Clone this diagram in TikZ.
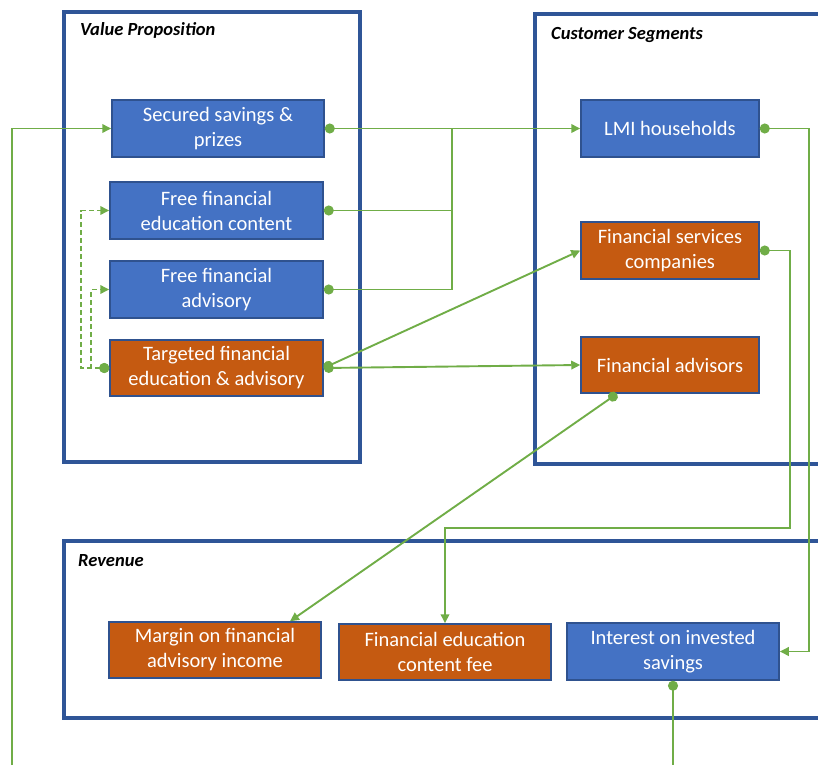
\documentclass[tikz,border=0pt]{standalone}
\usepackage{fontspec}
\setmainfont{Carlito}
\usetikzlibrary{arrows.meta}
\definecolor{fblue}{HTML}{4472C4}
\definecolor{forange}{HTML}{C55A11}
\definecolor{edge}{HTML}{2F528F}
\definecolor{frame}{HTML}{2F5597}
\definecolor{cgreen}{HTML}{70AD47}
\tikzset{
  boxbase/.style={draw=edge, line width=1.5pt, text=white, align=center,
    font=\fontsize{20.5}{25}\selectfont, inner sep=0pt},
  bluebox/.style={boxbase, fill=fblue},
  orangebox/.style={boxbase, fill=forange},
  framebox/.style={draw=frame, line width=3.5pt},
  framelabel/.style={anchor=base west, font=\fontsize{18.5}{21}\selectfont\bfseries\itshape, inner sep=0pt},
  conn/.style={draw=cgreen, line width=1.9pt},
  tip/.style={-{Triangle[length=9pt,width=8.5pt]}},
  dot/.style={{Circle[length=10pt]}-},
  dottip/.style={{Circle[length=10pt]}-{Triangle[length=9pt,width=8.5pt]}},
}
\begin{document}
\begin{tikzpicture}[x=1pt,y=-1pt]
\useasboundingbox (0,0) rectangle (818,765);
\clip (0,0) rectangle (818,765);
% frames
\draw[framebox] (64,12) rectangle (360,462);
\draw[framebox] (535,14) rectangle (840,464);
\draw[framebox] (64,541) rectangle (840,718);
\node[framelabel] (lvp) at (80,36) {Value Proposition};
\node[framelabel] (lcs) at (551,40) {Customer Segments};
\node[framelabel] (lrv) at (78,566) {Revenue};
% boxes
\node[bluebox, minimum width=212pt, minimum height=57pt] (sec) at (218,128.5) {Secured savings \&\\prizes};
\node[bluebox, minimum width=213pt, minimum height=57pt] (fed) at (216.5,210.5) {Free financial\\education content};
\node[bluebox, minimum width=213pt, minimum height=57pt] (fadv) at (216.5,289.5) {Free financial\\advisory};
\node[orangebox, minimum width=213pt, minimum height=56pt] (tgt) at (216.5,368) {Targeted financial\\education \& advisory};
\node[bluebox, minimum width=178pt, minimum height=57pt] (lmi) at (670,128.5) {LMI households};
\node[orangebox, minimum width=178pt, minimum height=57pt] (fs) at (670,250.5) {Financial services\\companies};
\node[orangebox, minimum width=178pt, minimum height=56pt] (fa) at (670,365) {Financial advisors};
\node[orangebox, minimum width=212pt, minimum height=56pt] (mar) at (215,650) {Margin on financial\\advisory income};
\node[orangebox, minimum width=212pt, minimum height=56pt] (fee) at (445,652) {Financial education\\content fee};
\node[bluebox, minimum width=212pt, minimum height=57pt] (int) at (673,651.5) {Interest on invested\\savings};
% free ends and junctions
\coordinate (lb) at (12,765);
\coordinate (ib) at (673,765);
\coordinate (jn) at (452,128.5);
\coordinate (fsbend) at (790,528);
\coordinate (lmibend) at (809,128.5);
% connectors
\draw[conn, tip] (lb) |- (sec.west);
\draw[conn, dottip] (sec.east) -- (lmi.west);
\draw[conn, dot] (fed.east) -| (jn);
\draw[conn, dot] (fadv.east) -| (jn);
\draw[conn, dottip] (tgt.east) -- (fs.west);
\draw[conn, dottip] (tgt.east) -- (fa.west);
\draw[conn, dottip, dash pattern=on 5pt off 3pt] (tgt.west) -- ++(-28,0) |- (fed.west);
\draw[conn, dottip, dash pattern=on 5pt off 3pt] (tgt.west) -- ++(-18,0) |- (fadv.west);
\draw[conn, dottip] (lmi.east) -- (lmibend) |- (int.east);
\draw[conn, dottip] (fs.east) -| (fsbend) -| (fee.north);
\draw[conn, dottip] ([xshift=-53pt]fa.south) -- ([xshift=75pt]mar.north);
\draw[conn, dot] (int.south) -- (ib);
\end{tikzpicture}
\end{document}
